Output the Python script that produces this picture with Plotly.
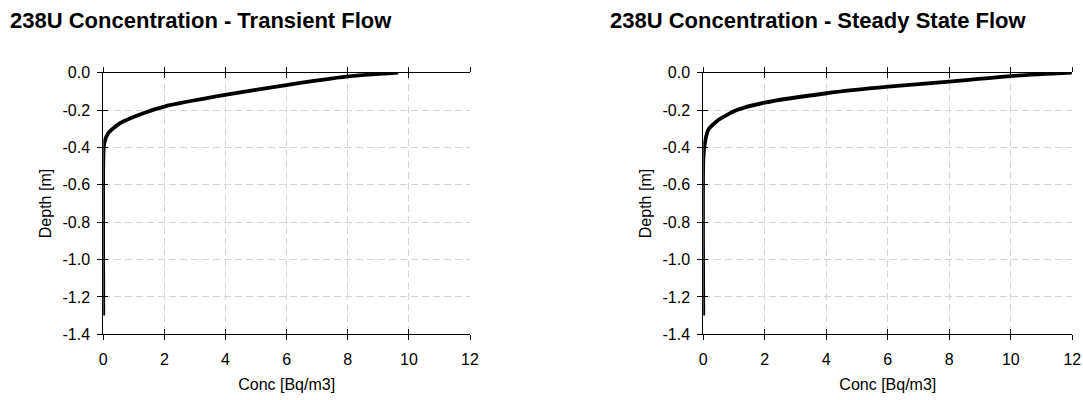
import plotly.graph_objects as go

# Transient flow profile
trans_conc = [9.65, 7.95, 5.99, 3.98, 2.02, 1.31, 0.55, 0.16, 0.03, 0.0, 0.0]
trans_depth = [0.0, -0.021, -0.066, -0.119, -0.18, -0.217, -0.27, -0.324, -0.378, -0.467, -1.30]

# Steady state flow profile
steady_conc = [11.98, 9.97, 8.0, 6.02, 4.01, 2.0, 1.09, 0.49, 0.16, 0.05, 0.0, 0.0]
steady_depth = [0.0, -0.018, -0.048, -0.075, -0.11, -0.16, -0.2, -0.253, -0.306, -0.378, -0.467, -1.30]

x_ticks = [0, 2, 4, 6, 8, 10, 12]
x_ticktext = ["0", "2", "4", "6", "8", "10", "12"]
y_ticks = [0.0, -0.2, -0.4, -0.6, -0.8, -1.0, -1.2, -1.4]
y_ticktext = ["0.0", "-0.2", "-0.4", "-0.6", "-0.8", "-1.0", "-1.2", "-1.4"]

titles = ["238U Concentration - Transient Flow", "238U Concentration - Steady State Flow"]
x_title = "Conc [Bq/m3]"
y_title = "Depth [m]"

FONT = "Liberation Sans, Arial, sans-serif"
W, H = 1083, 400

fig = go.Figure()

x_dom = [[103.3 / W, 470 / W], [703.3 / W, 1072.3 / W]]
y_dom = [(400 - 334.3) / H, (400 - 72.7) / H]

series = [(trans_conc, trans_depth), (steady_conc, steady_depth)]

grid = dict(showgrid=True, gridcolor="#d6d6d6", griddash="7px,4px", gridwidth=1)
tickfont = dict(family=FONT, size=16, color="black")
TL = 5

for i in range(2):
    xa = "x" if i == 0 else "x2"
    ya = "y" if i == 0 else "y2"
    xo = f"x{3 + 2 * i}"   # overlay x (inside ticks)
    yo = f"y{3 + 2 * i}"   # overlay y (inside ticks)
    c, d = series[i]
    fig.add_trace(go.Scatter(x=c, y=d, mode="lines", xaxis=xa, yaxis=ya,
                             line=dict(color="black", width=3.8, shape="spline", smoothing=0.6),
                             showlegend=False, hoverinfo="x+y"))
    xkey = "xaxis" if i == 0 else "xaxis2"
    ykey = "yaxis" if i == 0 else "yaxis2"
    fig.update_layout({
        xkey: dict(domain=x_dom[i], anchor=ya, range=[0, 12], tickvals=x_ticks, ticktext=x_ticktext,
                   showline=True, linecolor="black", linewidth=1, mirror="ticks",
                   ticks="outside", ticklen=TL, tickcolor="black", tickfont=tickfont,
                   ticklabelstandoff=5, automargin=False,
                   title=dict(text=x_title, font=dict(family=FONT, size=16, color="black"), standoff=12),
                   zeroline=False, fixedrange=True, **grid),
        ykey: dict(domain=y_dom, anchor=xa, range=[-1.4, 0], tickvals=y_ticks, ticktext=y_ticktext,
                   showline=True, linecolor="black", linewidth=1,
                   ticks="outside", ticklen=TL, tickcolor="black", tickfont=tickfont,
                   ticklabelstandoff=4, automargin=False,
                   title=dict(text=y_title, font=dict(family=FONT, size=16, color="black"), standoff=6),
                   zeroline=False, fixedrange=True, **grid),
        f"xaxis{3 + 2 * i}": dict(overlaying=xa, anchor=ya, range=[0, 12], tickvals=x_ticks,
                                  showticklabels=False, ticks="inside", ticklen=TL, tickcolor="black",
                                  mirror="ticks", showline=False, showgrid=False, zeroline=False,
                                  automargin=False, fixedrange=True),
        f"yaxis{3 + 2 * i}": dict(overlaying=ya, anchor=xa, range=[-1.4, 0], tickvals=y_ticks,
                                  showticklabels=False, ticks="inside", ticklen=TL, tickcolor="black",
                                  showline=False, showgrid=False, zeroline=False,
                                  automargin=False, fixedrange=True),
    })
    fig.add_trace(go.Scatter(x=c, y=d, mode="lines", xaxis=xo, yaxis=ya, opacity=0,
                             showlegend=False, hoverinfo="skip"))
    fig.add_trace(go.Scatter(x=c, y=d, mode="lines", xaxis=xa, yaxis=yo, opacity=0,
                             showlegend=False, hoverinfo="skip"))

title_x = [10 / W, 610 / W]
for i in range(2):
    fig.add_annotation(text=f"<b>{titles[i]}</b>", xref="paper", yref="paper",
                       x=title_x[i], y=1 - 20 / H, xanchor="left", yanchor="middle",
                       xshift=-2, showarrow=False, font=dict(family=FONT, size=22, color="black"))

fig.update_layout(template="none", width=W, height=H, margin=dict(l=0, r=0, t=0, b=0, pad=0),
                  paper_bgcolor="white", plot_bgcolor="white", showlegend=False)

fig.write_html("out.html")
